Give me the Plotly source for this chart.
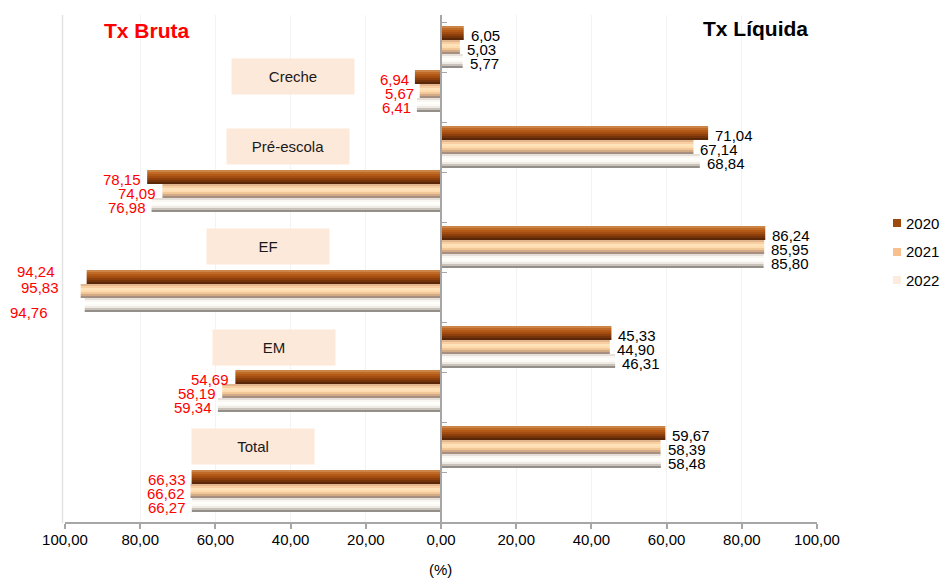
import plotly.graph_objects as go

# Education levels and years
groups = ["Creche", "Pré-escola", "EF", "EM", "Total"]
years = ["2020", "2021", "2022"]

# Tx Líquida (%), one list per year, in the order of `groups`
liquida_2020 = [6.05, 71.04, 86.24, 45.33, 59.67]
liquida_2021 = [5.03, 67.14, 85.95, 44.90, 58.39]
liquida_2022 = [5.77, 68.84, 85.80, 46.31, 58.48]

# Tx Bruta (%), one list per year, in the order of `groups`
bruta_2020 = [6.94, 78.15, 94.24, 54.69, 66.33]
bruta_2021 = [5.67, 74.09, 95.83, 58.19, 66.62]
bruta_2022 = [6.41, 76.98, 94.76, 59.34, 66.27]

x_ticks = [-100, -80, -60, -40, -20, 0, 20, 40, 60, 80, 100]

liquida = [liquida_2020, liquida_2021, liquida_2022]
bruta = [bruta_2020, bruta_2021, bruta_2022]

# Shading bands (top to bottom) giving each bar a rounded look
bands = [
    ["#CB8547", "#BF6A27", "#B25918", "#A44D11", "#8E400C", "#75340A", "#5A2808"],
    ["#E2B68E", "#FAD0A2", "#FFE3BB", "#FFDDB0", "#F2C898", "#D2AA86", "#A68F80"],
    ["#E6E0DA", "#FAF7F2", "#FFFFFC", "#FCFAF6", "#EFEAE4", "#C9C2BB", "#958F8A"],
]
legend_colors = ["#9C4A0E", "#F9C08F", "#FDEBDD"]

# Rows: Líquida (right side) then Bruta (left side) for each level
rows = list(range(2 * len(groups)))

W, H = 940, 579
M_L, M_R, M_T, M_B = 65, 123, 15, 57
PW, PH = W - M_L - M_R, H - M_T - M_B

FONT = "Liberation Sans, Arial"


def px_x(px):
    return (px - M_L) / PW


def px_y(py):
    return (H - M_B - py) / PH


slot = 0.28
start_liq = -0.42
start_bru = -0.54   # Bruta bars sit right under the Líquida bars of the same level
fig = go.Figure()
annotations = []

# extra label offsets (pixels) for the crowded EF Tx Bruta labels: (row, year) -> (dx, dy)
label_nudge = {(5, 0): (-26, 8), (5, 1): (-16, 5.5), (5, 2): (-31, -5)}

for i, year in enumerate(years):
    vals, offs = [], []
    for liq, bru in zip(liquida[i], bruta[i]):
        vals += [liq, -bru]
        offs += [start_liq + slot * i, start_bru + slot * i]
    n = len(bands[i])
    for k, col in enumerate(bands[i]):
        fig.add_trace(go.Bar(
            x=vals, y=rows, orientation="h",
            offset=[o + slot * k / n for o in offs], width=slot / n,
            marker=dict(color=col, line=dict(width=0)),
            showlegend=False, hoverinfo="skip",
        ))
    # value labels
    for r, v, o in zip(rows, vals, offs):
        yc = r + o + slot / 2
        dx, dy = label_nudge.get((r, i), (0, 0))
        if v >= 0:
            annotations.append(dict(
                x=v, y=yc, xref="x", yref="y", text=f"{v:.2f}".replace(".", ","),
                showarrow=False, xanchor="left", yanchor="middle",
                xshift=5 + dx, yshift=-2 + dy,
                font=dict(family=FONT, size=15, color="#000000")))
        else:
            annotations.append(dict(
                x=v, y=yc, xref="x", yref="y", text=f"{-v:.2f}".replace(".", ","),
                showarrow=False, xanchor="right", yanchor="middle",
                xshift=-4 + dx, yshift=-2 + dy,
                font=dict(family=FONT, size=15, color="#FF0000")))

# Level name boxes
box_x = [-39.4, -40.8, -45.9, -44.3, -50.1]
box_y = [0.58, 1.99, 3.99, 6.01, 7.99]
for name, bx, by in zip(groups, box_x, box_y):
    annotations.append(dict(
        x=bx, y=by, xref="x", yref="y", text=name, showarrow=False,
        bgcolor="#FDE9DA", width=120, height=33, borderpad=1,
        font=dict(family=FONT, size=15, color="#1A1A1A"),
    ))

annotations += [
    dict(x=px_x(147), y=px_y(30), xref="paper", yref="paper", text="<b>Tx Bruta</b>",
         showarrow=False, xanchor="center", yanchor="middle",
         font=dict(family=FONT, size=21, color="#FF0000")),
    dict(x=px_x(755), y=px_y(28), xref="paper", yref="paper", text="<b>Tx Líquida</b>",
         showarrow=False, xanchor="center", yanchor="middle",
         font=dict(family=FONT, size=21, color="#000000")),
    dict(x=px_x(440), y=px_y(569), xref="paper", yref="paper", text="(%)",
         showarrow=False, xanchor="center", yanchor="middle", borderpad=0,
         font=dict(family=FONT, size=15, color="#000000")),
]

# Legend drawn as swatches + labels
shapes = []
leg_y = [223, 252, 280]
for year, col, ly in zip(years, legend_colors, leg_y):
    shapes.append(dict(type="rect", xref="paper", yref="paper",
                       x0=px_x(893), x1=px_x(901), y0=px_y(ly + 4), y1=px_y(ly - 4),
                       fillcolor=col, line=dict(width=0)))
    annotations.append(dict(x=px_x(904), y=px_y(ly), xref="paper", yref="paper",
                            text=year, showarrow=False, xanchor="left", yanchor="middle",
                            font=dict(family=FONT, size=15, color="#000000")))

# faint left border
shapes.append(dict(type="line", xref="paper", yref="paper",
                   x0=px_x(62.5), x1=px_x(62.5), y0=px_y(523), y1=px_y(15),
                   line=dict(color="#E3E3E3", width=1.5)))

fig.update_layout(
    width=W, height=H,
    margin=dict(l=M_L, r=M_R, t=M_T, b=M_B),
    paper_bgcolor="white", plot_bgcolor="white",
    barmode="overlay", showlegend=False,
    font=dict(family=FONT, size=15, color="#000000"),
    xaxis=dict(
        range=[-100, 100], tickvals=x_ticks,
        ticktext=[f"{abs(v):.2f}".replace(".", ",") for v in x_ticks],
        ticks="outside", ticklen=5, tickcolor="#A6A6A6", tickwidth=1.5,
        showline=True, linecolor="#A6A6A6", linewidth=1.5,
        showgrid=True, gridcolor="#F3F3F3", gridwidth=1,
        zeroline=False, tickfont=dict(size=15), ticklabelstandoff=-2,
    ),
    yaxis=dict(
        range=[9.5, -0.64], anchor="free", position=px_x(441), side="right",
        tickvals=[r - 0.5 for r in rows] + [9.5], showticklabels=False,
        ticks="outside", ticklen=5, tickcolor="#A6A6A6", tickwidth=1,
        showline=True, linecolor="#A6A6A6", linewidth=2,
        showgrid=False, zeroline=False,
    ),
    annotations=annotations,
    shapes=shapes,
)

fig.write_html("out.html")
